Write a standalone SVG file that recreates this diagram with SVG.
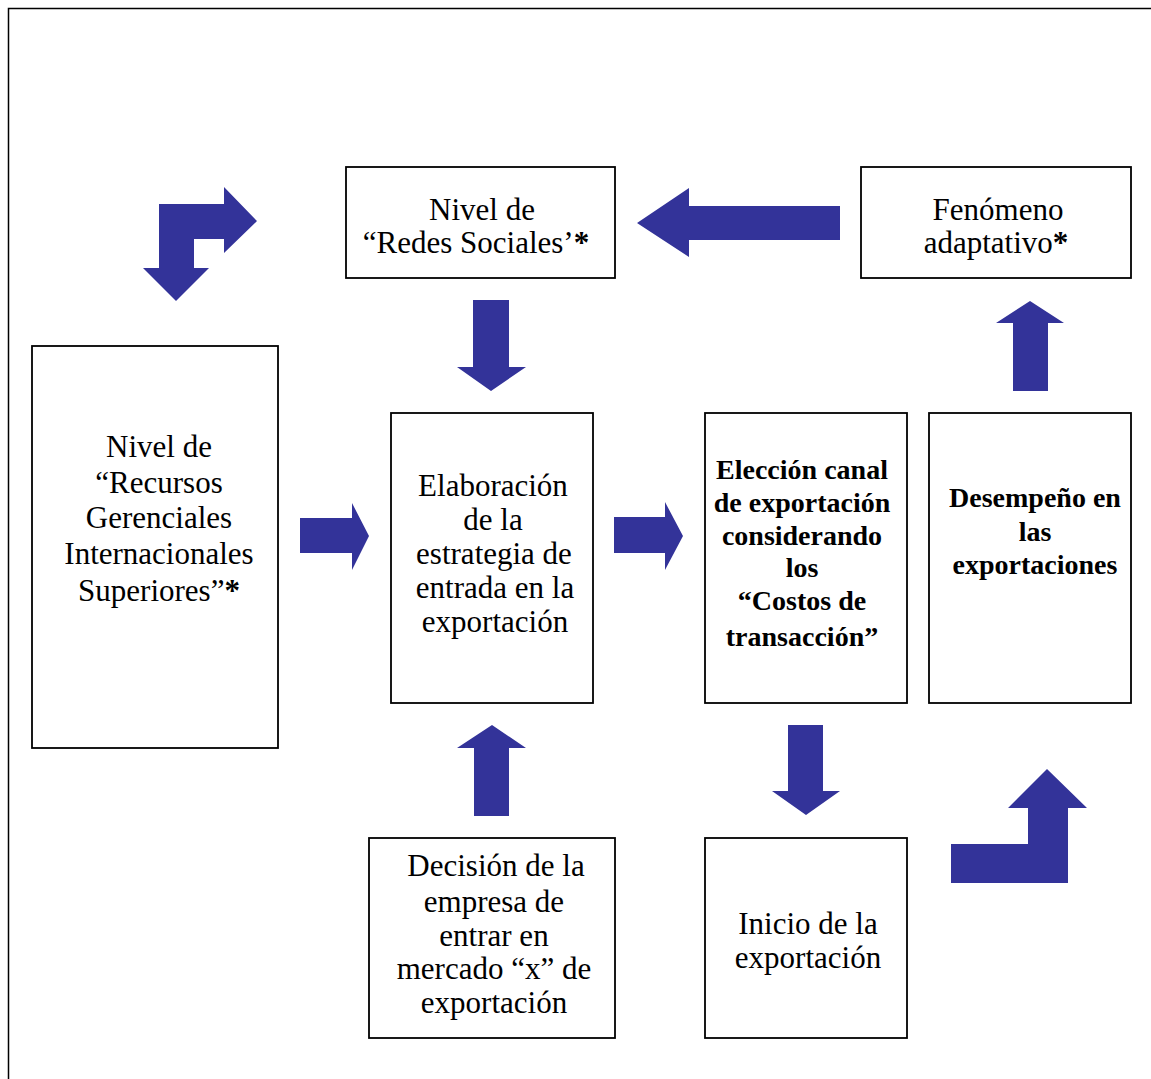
<svg xmlns="http://www.w3.org/2000/svg" width="1151" height="1079" viewBox="0 0 1151 1079">
<style>
.box{fill:#fff;stroke:#000;stroke-width:1.8}
.t{font-family:"Liberation Serif","Times New Roman",serif;font-size:31px;fill:#000;text-anchor:middle}
.b{font-family:"Liberation Serif","Times New Roman",serif;font-size:28px;font-weight:bold;fill:#000;text-anchor:middle}
.ar{fill:#333399}
</style>
<rect width="1151" height="1079" fill="#fff"/>
<path d="M8.5,1079 V8.5 H1151" fill="none" stroke="#000" stroke-width="1.5"/>

<g id="connectors">
<polygon class="ar" points="159,204 224,204 224,187 257,221 224,253 224,239 194,239 194,268 209,268 176,301 143,268 159,268"/>
<polygon class="ar" points="840,206 689,206 689,188 637,223 689,257 689,240 840,240"/>
<polygon class="ar" points="473,300 509,300 509,367 526,367 491,391 457,367 473,367"/>
<polygon class="ar" points="1013,391 1048,391 1048,323 1064,323 1030,301 996,323 1013,323"/>
<polygon class="ar" points="300,518 352,518 352,503 369,536 352,570 352,553 300,553"/>
<polygon class="ar" points="614,517 665,517 665,502 683,536 665,570 665,553 614,553"/>
<polygon class="ar" points="474,816 509,816 509,748 526,748 492,725 457,748 474,748"/>
<polygon class="ar" points="788,725 823,725 823,791 840,791 806,815 772,791 788,791"/>
<polygon class="ar" points="951,844 1028,844 1028,808 1008,808 1047,769 1087,808 1068,808 1068,883 951,883"/>
</g>

<g id="redes">
<rect class="box" x="346" y="167" width="269" height="111"/>
<text class="t" x="482" y="220">Nivel de</text>
<text class="t" x="476" y="253">“Redes Sociales’<tspan font-weight="bold">*</tspan></text>
</g>

<g id="fenomeno">
<rect class="box" x="861" y="167" width="270" height="111"/>
<text class="t" x="998" y="220">Fenómeno</text>
<text class="t" x="996" y="253">adaptativo<tspan font-weight="bold">*</tspan></text>
</g>

<g id="recursos">
<rect class="box" x="32" y="346" width="246" height="402"/>
<text class="t" x="159" y="457">Nivel de</text>
<text class="t" x="159" y="493">“Recursos</text>
<text class="t" x="159" y="528">Gerenciales</text>
<text class="t" x="159" y="564">Internacionales</text>
<text class="t" x="159" y="601">Superiores”<tspan font-weight="bold">*</tspan></text>
</g>

<g id="elaboracion">
<rect class="box" x="391" y="413" width="202" height="290"/>
<text class="t" x="493" y="496">Elaboración</text>
<text class="t" x="493" y="530">de la</text>
<text class="t" x="494" y="564">estrategia de</text>
<text class="t" x="495" y="598">entrada en la</text>
<text class="t" x="495" y="632">exportación</text>
</g>

<g id="eleccion">
<rect class="box" x="705" y="413" width="202" height="290"/>
<text class="b" x="802" y="479">Elección canal</text>
<text class="b" x="802" y="512">de exportación</text>
<text class="b" x="802" y="545">considerando</text>
<text class="b" x="802" y="577">los</text>
<text class="b" x="802" y="610">“Costos de</text>
<text class="b" x="802" y="646">transacción”</text>
</g>

<g id="desempeno">
<rect class="box" x="929" y="413" width="202" height="290"/>
<text class="b" x="1035" y="507">Desempeño en</text>
<text class="b" x="1035" y="541">las</text>
<text class="b" x="1035" y="574">exportaciones</text>
</g>

<g id="decision">
<rect class="box" x="369" y="838" width="246" height="200"/>
<text class="t" x="496" y="876">Decisión de la</text>
<text class="t" x="494" y="912">empresa de</text>
<text class="t" x="494" y="946">entrar en</text>
<text class="t" x="494" y="979">mercado “x” de</text>
<text class="t" x="494" y="1013">exportación</text>
</g>

<g id="inicio">
<rect class="box" x="705" y="838" width="202" height="200"/>
<text class="t" x="808" y="934">Inicio de la</text>
<text class="t" x="808" y="968">exportación</text>
</g>
</svg>
